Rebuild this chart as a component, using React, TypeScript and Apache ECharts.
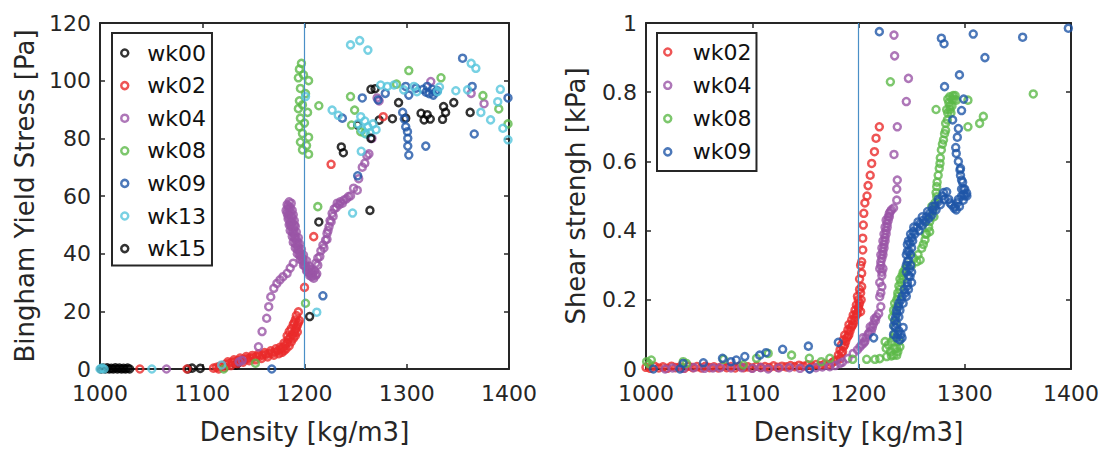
import React, { useEffect, useRef } from "react";
import * as echarts from "echarts";

// ---------- Left plot: Bingham Yield Stress [Pa] vs Density ----------
const leftWk00 = [
  [1001, 0], [1003, 0.3], [1005, 0], [1007, 0.4], [1009, 0], [1011, 0.2], [1013, 0], [1015, 0.4],
  [1017, 0], [1019, 0.3], [1021, 0], [1023, 0.2], [1025, 0], [1027, 0.3], [1029, 0],
  [1086, 0], [1090, 0.3], [1098, 0.2], [1133, 1.4], [1135, 2.1],
  [1236, 77], [1238, 75], [1252, 84.6], [1265, 97], [1269, 97.2], [1273, 86.3], [1286, 86.8], [1299, 87],
];
const leftWk02 = [
  [1039, 0], [1085, 0], [1116, 0], [1111, 0.3], [1114, 0.6], [1117, 0.9], [1120, 1.2], [1122, 0.6],
  [1123, 1.6], [1126, 1.9], [1128, 1.2], [1129, 2.3], [1132, 2.6], [1134, 1.9], [1135, 2.9], [1138, 3.1],
  [1140, 2.4], [1141, 3.4], [1144, 3.6], [1146, 2.9], [1147, 3.8], [1150, 4.0], [1152, 3.2], [1153, 4.3],
  [1156, 4.5], [1158, 3.7], [1159, 4.8], [1162, 5.0], [1164, 4.2], [1165, 5.3], [1168, 5.5], [1170, 4.8],
  [1171, 5.9], [1174, 6.3], [1175, 5.3], [1177, 6.8], [1178, 5.8], [1179, 7.4], [1180, 6.4], [1181, 8.2],
  [1182, 7.0], [1183, 9.0], [1184, 10.2], [1185, 8.0], [1186, 11.0], [1187, 9.4], [1188, 11.8], [1189, 10.6],
  [1190, 12.6], [1191, 13.5], [1191, 11.5], [1192, 14.3], [1193, 15.2], [1193, 12.8], [1194, 16.0],
  [1195, 16.8], [1194, 19.8], [1200, 28.3], [1209, 45.9], [1226, 71], [1277, 87.5],
  [1125, 2.5], [1131, 3.2], [1137, 3.8], [1143, 4.3], [1149, 4.7], [1155, 5.2], [1161, 5.7], [1167, 6.3],
  [1172, 7], [1176, 7.5], [1180, 9], [1183, 11.5], [1185, 13], [1187, 14], [1189, 15.5], [1191, 17],
  [1192, 18.5], [1190, 16],
];
const leftWk04 = [
  [1065, 0], [1136, 2.5], [1139, 3], [1155, 7.7], [1158.5, 13], [1163, 17.6], [1165, 21.6], [1167, 25],
  [1170, 28], [1173, 29.7], [1176, 30.9], [1179, 32], [1183, 33.2], [1186, 35], [1189, 36.7],
  [1183, 57], [1185, 58], [1187, 57.5], [1184, 55.5], [1186, 56], [1188, 55], [1183, 54], [1185, 53.5],
  [1187, 53], [1189, 53.5], [1184, 52], [1186, 51.5], [1188, 51], [1190, 51.5], [1185, 50], [1187, 49.5],
  [1189, 49], [1191, 49.5], [1186, 48], [1188, 47.5], [1190, 47], [1192, 47.5], [1188, 46], [1190, 45.5],
  [1192, 45], [1194, 45.5], [1189, 44], [1191, 43.5], [1193, 43], [1195, 43.5], [1191, 42], [1193, 41.5],
  [1195, 41], [1197, 41.5], [1193, 40], [1195, 39.5], [1197, 39], [1199, 39.5], [1196, 38], [1198, 37.5],
  [1200, 37], [1202, 37.5], [1199, 36], [1201, 35.5], [1203, 35], [1205, 35.5], [1202, 34], [1204, 33.5],
  [1206, 33], [1208, 33.5], [1205, 32.5], [1207, 32], [1209, 31.5], [1211, 32.5], [1210, 34], [1212, 33],
  [1184, 56.5], [1186, 54.5], [1188, 52.5], [1190, 50], [1187, 50.5], [1189, 48], [1191, 46], [1193, 44],
  [1194, 42], [1196, 40], [1198, 38.5], [1200, 36], [1203, 34], [1206, 34.5], [1208, 32.5], [1182, 55],
  [1184, 53], [1186, 50.5],
  [1211, 36.7], [1213, 38.5], [1216, 41], [1218, 43], [1220.6, 44.7], [1222, 47], [1224, 49.4], [1225, 51.5],
  [1227, 54], [1229, 55.5], [1232, 57.5], [1235, 58], [1238.5, 58.6], [1241, 59], [1243, 59.8], [1245, 60],
  [1213, 36], [1215, 39], [1219, 42], [1222, 45], [1223, 48], [1226, 51], [1228, 53], [1231, 56], [1234, 57],
  [1237, 57.5],
  [1248, 62.7], [1251.6, 62], [1253, 66], [1256.5, 70], [1259, 71.4], [1261, 74], [1263, 74.6], [1266, 80],
  [1271, 94], [1273, 93], [1323.5, 99.7], [1363, 95.6], [1375.6, 92],
];
const leftWk08 = [
  [1121, 0], [1152, 2], [1201, 22.8], [1213, 56.3], [1197, 106], [1195, 104], [1199, 102], [1194, 101],
  [1204, 100], [1196, 97.3], [1201, 95.5], [1195, 93], [1198, 91.6], [1194, 90.3], [1203, 89], [1196, 87],
  [1200, 85.3], [1195, 84], [1198, 81.7], [1204, 80.4], [1196, 78.7], [1202, 77.5], [1198, 76], [1204, 74.5],
  [1214, 91.3], [1245, 94.5], [1249, 89.8], [1246, 84.6], [1255, 82.3], [1259, 81.8], [1290, 98.8],
  [1302, 103.5], [1333.5, 101], [1374.5, 94.8], [1390, 90.2], [1399, 85],
];
const leftWk09 = [
  [1168, 0], [1218, 25.4], [1252, 67], [1237, 87], [1256.5, 94], [1272, 93.3], [1279, 95.6], [1296, 89],
  [1297.6, 86.7], [1299, 84], [1300.7, 82.3], [1301, 80], [1301, 77.3], [1302, 74.2], [1318.6, 77.3],
  [1366, 81.5], [1354.6, 107.8], [1364, 98], [1399, 94], [1299, 98], [1302, 95], [1309, 97.4], [1316, 97],
  [1319, 96], [1322, 95.5], [1325, 97], [1328, 96], [1320, 98], [1326, 95], [1330, 96.5],
];
const leftWk13 = [
  [1000, 0], [1002, 0.3], [1004, 0], [1050.7, 0], [1119, 1.4], [1212, 19.7], [1247, 54.1], [1255.5, 75.5],
  [1245, 112.4], [1254, 113.9], [1262, 110.6], [1363, 106], [1367.6, 104.3], [1201, 94.5], [1227, 89.8],
  [1233, 88], [1252, 85], [1256, 83], [1259, 86], [1262, 84], [1264, 82], [1267, 85], [1270, 83], [1255, 87.5],
  [1260, 81.5], [1274.5, 98.5], [1281, 98], [1287.5, 98.5], [1297, 96.8], [1307, 98], [1310, 96.2],
  [1330, 96.2], [1332, 97.8], [1348, 96.5], [1359.5, 96.8], [1372.5, 89], [1382, 86.4], [1391.5, 97],
  [1389, 92.7], [1394, 83.5], [1399, 79.5],
];
const leftWk15 = [
  [1205, 18.2], [1214, 51], [1264, 55], [1265, 80], [1292, 92.4], [1314, 88.7], [1317, 86.4], [1320, 88.2],
  [1323, 86.7], [1335, 86.6], [1336, 91], [1338, 89], [1346, 92.4], [1362, 89],
];

// ---------- Right plot: Shear strengh [kPa] vs Density ----------
const rightWk02 = [
  [1000, 0.005], [1004, 0.002], [1008, 0.008], [1012, 0.003], [1016, 0.006], [1020, 0.002], [1024, 0.008],
  [1028, 0.004], [1032, 0.006], [1036, 0.002], [1040, 0.008], [1044, 0.004], [1048, 0.007], [1052, 0.003],
  [1056, 0.008], [1060, 0.004], [1064, 0.006], [1068, 0.003], [1072, 0.008], [1076, 0.004], [1080, 0.007],
  [1084, 0.003], [1088, 0.008], [1092, 0.004], [1096, 0.006], [1100, 0.003], [1104, 0.008], [1108, 0.005],
  [1112, 0.007], [1116, 0.004], [1120, 0.009], [1124, 0.005], [1128, 0.008], [1132, 0.006], [1136, 0.01],
  [1140, 0.007], [1144, 0.011], [1148, 0.008], [1152, 0.012], [1156, 0.009], [1160, 0.013], [1164, 0.01],
  [1168, 0.014], [1172, 0.012], [1175, 0.018], [1177, 0.022], [1179.5, 0.026], [1181, 0.04], [1182.6, 0.055],
  [1184, 0.07], [1185.7, 0.084], [1187, 0.098], [1190, 0.113], [1191, 0.128], [1193.6, 0.142], [1195, 0.156],
  [1196.7, 0.17], [1198, 0.185], [1199.8, 0.2], [1201, 0.23], [1183, 0.03], [1185, 0.05], [1187, 0.07],
  [1189, 0.09], [1191, 0.1], [1193, 0.12], [1195, 0.13], [1197, 0.15], [1199, 0.16], [1200, 0.175],
  [1201, 0.19], [1202, 0.166], [1202.5, 0.2], [1203, 0.238], [1203, 0.277], [1203, 0.31], [1204, 0.344],
  [1204, 0.378], [1204.5, 0.416], [1205, 0.45], [1206, 0.48], [1208, 0.5], [1209, 0.53], [1211, 0.56],
  [1212.4, 0.594], [1215, 0.628], [1216.5, 0.667], [1219.6, 0.7], [1201, 0.26], [1202, 0.3],
  [1184, 0.045], [1186, 0.065], [1188, 0.08], [1190, 0.095], [1192, 0.11], [1194, 0.125], [1196, 0.14],
  [1198, 0.16], [1200, 0.18], [1199, 0.21], [1202, 0.22],
];
const rightWk04 = [
  [1018, 0], [1025, 0.003], [1035, 0.002], [1045, 0.004], [1055, 0.002], [1063, 0.003], [1070, 0.004],
  [1080, 0.003], [1090, 0.004], [1100, 0.002], [1108, 0.004], [1115, 0], [1125, 0.003], [1135, 0.004],
  [1145, 0.002], [1154, 0], [1160, 0.004], [1166, 0.006], [1173, 0.007], [1178, 0.01], [1182.6, 0.016],
  [1185, 0.02], [1190, 0.03], [1195, 0.045], [1199, 0.055], [1201.4, 0.064], [1203, 0.07], [1206, 0.08],
  [1204, 0.09], [1209, 0.1], [1212, 0.11], [1211, 0.122], [1214, 0.13], [1216, 0.14], [1217, 0.151],
  [1221, 0.18], [1220, 0.209], [1222, 0.238], [1222, 0.27], [1220, 0.29], [1221, 0.3], [1222, 0.32],
  [1221, 0.33], [1223, 0.34], [1222, 0.35], [1224, 0.36], [1223, 0.37], [1225, 0.38], [1224, 0.39],
  [1226, 0.4], [1225, 0.41], [1227, 0.42], [1226, 0.43], [1228, 0.44], [1229, 0.45], [1230, 0.455],
  [1231, 0.46], [1233, 0.465], [1236, 0.488], [1236, 0.52], [1236.5, 0.546], [1233.4, 0.62], [1236.5, 0.7],
  [1245, 0.773], [1247, 0.84], [1234, 0.905], [1233.4, 0.965],
  [1221, 0.31], [1223, 0.33], [1224, 0.35], [1225, 0.37], [1226, 0.39], [1227, 0.41], [1228, 0.43],
  [1229, 0.44], [1222, 0.28], [1223, 0.29], [1220, 0.25], [1221, 0.22], [1219, 0.16], [1215, 0.145],
  [1213, 0.12], [1210, 0.105], [1207, 0.09], [1205, 0.075],
];
const rightWk08 = [
  [1000.6, 0.021], [1005, 0.026], [1003, 0.015], [1035, 0.021], [1038, 0.016], [1073, 0.028], [1091.5, 0.012],
  [1104, 0.031], [1115, 0.045], [1137, 0.04], [1153.7, 0.031], [1165, 0.021], [1173, 0.031], [1194.5, 0.028],
  [1207.7, 0.028], [1215.5, 0.028], [1220, 0.03], [1226.5, 0.036], [1231, 0.038], [1236, 0.04], [1239, 0.064],
  [1231, 0.079], [1225, 0.079], [1228, 0.07], [1234, 0.06], [1237, 0.05], [1233, 0.09], [1234, 0.122],
  [1232, 0.15], [1233, 0.17], [1234, 0.19], [1236, 0.2], [1237, 0.22], [1238, 0.24], [1240, 0.25], [1241, 0.27],
  [1243, 0.28], [1244, 0.29], [1235, 0.165], [1236, 0.18], [1239, 0.23], [1242, 0.26], [1250, 0.3],
  [1255, 0.31], [1258, 0.315], [1259.5, 0.349], [1262.6, 0.373], [1264, 0.39], [1267, 0.397], [1267, 0.426],
  [1270, 0.46], [1271, 0.44], [1273.6, 0.498], [1273.6, 0.527], [1275, 0.56], [1276.7, 0.594], [1278, 0.633],
  [1280, 0.662], [1282, 0.69], [1283.6, 0.72], [1286, 0.75], [1286, 0.787], [1289, 0.79], [1292, 0.777],
  [1285, 0.77], [1288, 0.76], [1290, 0.78], [1284, 0.78], [1287, 0.74], [1283, 0.75], [1273, 0.75],
  [1303, 0.777], [1303, 0.7], [1314, 0.71], [1317.5, 0.73], [1364.5, 0.795], [1230, 0.83],
  [1226, 0.06], [1230, 0.05], [1233, 0.04], [1236, 0.06], [1238, 0.08], [1234, 0.1], [1235, 0.14],
  [1237, 0.21], [1239, 0.26], [1242, 0.28], [1246, 0.3], [1252, 0.32], [1256, 0.33], [1261, 0.36],
  [1263, 0.39], [1266, 0.41], [1268, 0.44], [1269, 0.47], [1272, 0.48], [1273, 0.51], [1274, 0.54],
  [1276, 0.58], [1277, 0.61], [1279, 0.65], [1281, 0.68], [1282, 0.71], [1284, 0.74], [1288, 0.78],
  [1291, 0.79], [1286, 0.76],
];
const rightWk09 = [
  [1007, 0], [1032, 0], [1035, 0.016], [1054, 0.018], [1072, 0.031], [1080, 0.021], [1085, 0.026], [1093, 0.036],
  [1107, 0.04], [1113, 0.047], [1128.6, 0.057], [1152.8, 0.066], [1154, 0], [1181, 0.077], [1214.3, 0.09],
  [1239, 0.084], [1237, 0.1], [1235, 0.12], [1234, 0.14], [1236, 0.16], [1237.5, 0.18], [1240, 0.2],
  [1244, 0.22], [1246, 0.24], [1248.5, 0.267], [1248, 0.29], [1247, 0.315], [1247.5, 0.34], [1248.5, 0.363],
  [1250, 0.38], [1251.6, 0.397], [1255, 0.41], [1258, 0.42], [1261, 0.43], [1264, 0.44], [1267, 0.45],
  [1270, 0.46], [1272, 0.47], [1275, 0.484], [1279, 0.5], [1283, 0.512], [1285, 0.49], [1287.7, 0.474],
  [1290, 0.465], [1292, 0.46], [1295, 0.47], [1298.6, 0.488], [1300, 0.5], [1301.8, 0.508], [1300, 0.52],
  [1297, 0.546], [1296, 0.56], [1295.5, 0.575], [1294, 0.6], [1292, 0.623], [1291.5, 0.64], [1293, 0.67],
  [1294, 0.695], [1288.6, 0.72], [1297, 0.747], [1299, 0.78], [1281, 0.816], [1295, 0.85], [1319, 0.9],
  [1354.5, 0.959], [1397.5, 0.985], [1308, 0.968], [1278, 0.956], [1280.5, 0.94], [1219.6, 0.975],
  [1241, 0.09], [1238, 0.11], [1236, 0.13], [1238, 0.15], [1239, 0.17], [1242, 0.19], [1245, 0.21],
  [1247, 0.23], [1250, 0.25], [1250, 0.28], [1249, 0.3], [1249, 0.33], [1250, 0.35], [1251, 0.37],
  [1253, 0.39], [1257, 0.4], [1260, 0.415], [1263, 0.425], [1266, 0.435], [1269, 0.445], [1273, 0.46],
  [1277, 0.475], [1281, 0.49], [1245, 0.28], [1245, 0.3], [1245, 0.33], [1246, 0.36], [1293, 0.48],
  [1297, 0.5], [1299, 0.52], [1298, 0.54], [1296, 0.58], [1236, 0.09], [1240, 0.1], [1242, 0.12],
  [1233, 0.1], [1233, 0.125], [1235, 0.15], [1236, 0.17], [1238, 0.19], [1241, 0.21], [1243, 0.23],
  [1246, 0.25], [1247, 0.27], [1246, 0.31], [1246, 0.34], [1247, 0.37], [1249, 0.39], [1252, 0.41],
  [1256, 0.425], [1260, 0.44], [1265, 0.455], [1270, 0.47], [1275, 0.49], [1280, 0.51], [1286, 0.48],
  [1291, 0.47], [1294, 0.49], [1297, 0.52], [1299, 0.505], [1302, 0.5],
];

const leftNames = ["wk00", "wk02", "wk04", "wk08", "wk09", "wk13", "wk15"];
const rightNames = ["wk02", "wk04", "wk08", "wk09"];
const xTicks = { min: 1000, max: 1400, interval: 100 };
const leftY = { min: 0, max: 120, interval: 20 };
const rightY = { min: 0, max: 1, interval: 0.2 };
const refDensity = 1200;

const COLORS: Record<string, string> = {
  wk00: "#000000",
  wk02: "#ea2a2a",
  wk04: "#9a55a6",
  wk08: "#5cb948",
  wk09: "#1f56a8",
  wk13: "#56c6dc",
  wk15: "#000000",
};

const AX = "#262626";
const FONT = "DejaVu Sans";

function makeX(gridIndex: number, top: boolean) {
  return {
    type: "value",
    gridIndex,
    position: top ? "top" : "bottom",
    ...xTicks,
    axisLine: { show: true, onZero: false, lineStyle: { color: AX, width: 2 } },
    axisTick: { show: true, inside: true, length: 5, lineStyle: { color: AX, width: 1.5 } },
    axisLabel: top
      ? { show: false }
      : {
          show: true,
          fontSize: 22,
          color: AX,
          margin: 13,
          fontFamily: FONT,
          formatter: (v: number) => String(v),
        },
    splitLine: { show: false },
    name: top ? "" : "Density [kg/m3]",
    nameLocation: "middle",
    nameGap: 50,
    nameTextStyle: { fontSize: 26, color: AX, fontFamily: FONT },
  };
}

function makeY(gridIndex: number, right: boolean, range: any, name: string, gap: number) {
  return {
    type: "value",
    gridIndex,
    position: right ? "right" : "left",
    ...range,
    axisLine: { show: true, onZero: false, lineStyle: { color: AX, width: 2 } },
    axisTick: { show: true, inside: true, length: 5, lineStyle: { color: AX, width: 1.5 } },
    axisLabel: right
      ? { show: false }
      : { show: true, fontSize: 22, color: AX, margin: 9, fontFamily: FONT },
    splitLine: { show: false },
    name: right ? "" : name,
    nameLocation: "middle",
    nameGap: gap,
    nameTextStyle: { fontSize: 26, color: AX, fontFamily: FONT },
  };
}

function scatter(name: string, data: number[][], xi: number, yi: number, withLine: boolean) {
  const s: any = {
    type: "scatter",
    name,
    data,
    xAxisIndex: xi,
    yAxisIndex: yi,
    symbol: "circle",
    symbolSize: 7,
    itemStyle: { color: "rgba(0,0,0,0)", borderColor: COLORS[name], borderWidth: 2.5 },
    emphasis: { disabled: true },
  };
  if (withLine) {
    s.markLine = {
      silent: true,
      symbol: ["none", "none"],
      label: { show: false },
      lineStyle: { color: "#4a8fc7", width: 1.2, type: "solid" },
      data: [{ xAxis: refDensity }],
    };
  }
  return s;
}

export default function App() {
  const ref = useRef<HTMLDivElement>(null);
  useEffect(() => {
    document.body.style.margin = "0";
    if (!ref.current) return;
    const chart = echarts.init(ref.current, undefined, { renderer: "svg" });
    const legendCommon = {
      orient: "vertical",
      icon: "circle",
      itemHeight: 7,
      backgroundColor: "#fff",
      borderColor: AX,
      borderWidth: 2,
      itemStyle: { borderWidth: 2.5 },
      textStyle: { fontSize: 22, color: "#111", fontFamily: FONT, lineHeight: 24 },
      selectedMode: false,
    };
    chart.setOption({
      animation: false,
      textStyle: { fontFamily: FONT },
      grid: [
        { left: 100, top: 23, width: 409, height: 346 },
        { left: 646, top: 23, width: 425, height: 346 },
      ],
      xAxis: [makeX(0, false), makeX(0, true), makeX(1, false), makeX(1, true)],
      yAxis: [
        makeY(0, false, leftY, "Bingham Yield Stress [Pa]", 62),
        makeY(0, true, leftY, "", 0),
        makeY(1, false, rightY, "Shear strengh [kPa]", 57),
        makeY(1, true, rightY, "", 0),
      ],
      legend: [
        {
          ...legendCommon,
          left: 112,
          top: 33,
          itemWidth: 35,
          itemGap: 8.6,
          padding: [8, 6, 5, 8],
          data: leftNames,
        },
        {
          ...legendCommon,
          left: 657,
          top: 33,
          itemWidth: 40,
          itemGap: 9.3,
          padding: [7, 5, 7, 6],
          data: rightNames,
        },
      ],
      series: [
        scatter("wk00", leftWk00, 0, 0, true),
        scatter("wk02", leftWk02, 0, 0, false),
        scatter("wk04", leftWk04, 0, 0, false),
        scatter("wk08", leftWk08, 0, 0, false),
        scatter("wk09", leftWk09, 0, 0, false),
        scatter("wk13", leftWk13, 0, 0, false),
        scatter("wk15", leftWk15, 0, 0, false),
        scatter("wk02", rightWk02, 2, 2, true),
        scatter("wk04", rightWk04, 2, 2, false),
        scatter("wk08", rightWk08, 2, 2, false),
        scatter("wk09", rightWk09, 2, 2, false),
      ],
    });
    return () => chart.dispose();
  }, []);
  return <div ref={ref} style={{ width: 1107, height: 452 }} />;
}
